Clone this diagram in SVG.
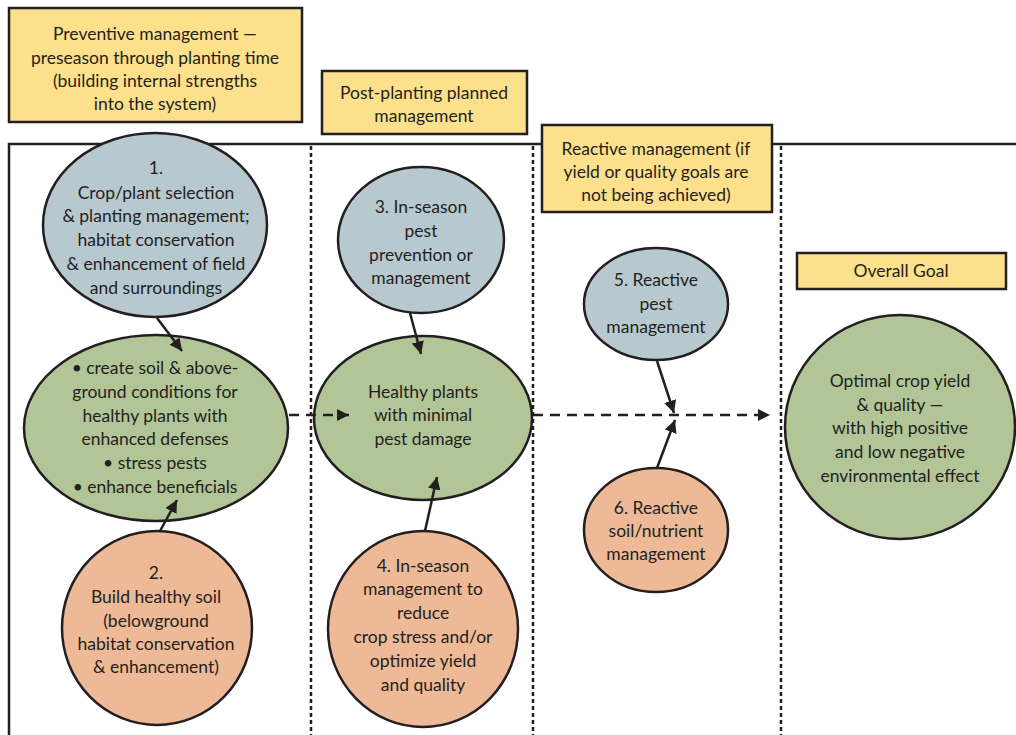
<svg xmlns="http://www.w3.org/2000/svg" width="1016" height="735" viewBox="0 0 1016 735">
<defs>
<marker id="ah" viewBox="0 0 10 10" refX="10" refY="5" markerWidth="5" markerHeight="5" orient="auto" markerUnits="strokeWidth">
<path d="M0,0 L10,5 L0,10 z" fill="#231f20"/>
</marker>
<style>
.t{font-family:Lato,"Liberation Sans",sans-serif;font-size:17.5px;fill:#231f20;text-anchor:middle}
.box{fill:#fde08c;stroke:#231f20;stroke-width:2.5}
.blue{fill:#b8c8cf;stroke:#231f20;stroke-width:2.5}
.green{fill:#b1c597;stroke:#231f20;stroke-width:2.5}
.orange{fill:#edb996;stroke:#231f20;stroke-width:2.5}
.frame{stroke:#231f20;stroke-width:2.5;fill:none}
.dot{stroke:#231f20;stroke-width:2.5;stroke-dasharray:4 3;fill:none}
.dash{stroke:#231f20;stroke-width:2.5;stroke-dasharray:10 7;fill:none}
.arr{stroke:#231f20;stroke-width:2.5;fill:none;marker-end:url(#ah)}
</style>
</defs>
<rect width="1016" height="735" fill="#ffffff"/>
<g id="frame">
<path class="frame" d="M9,735 L9,144 L1016,144"/>
<line class="dot" x1="311" y1="146" x2="311" y2="735"/>
<line class="dot" x1="533" y1="146" x2="533" y2="735"/>
<line class="dot" x1="781" y1="146" x2="781" y2="735"/>
</g>
<g id="box-preventive">
<rect class="box" x="9" y="8" width="293" height="114"/>
<text class="t" x="155" y="40">Preventive management —</text>
<text class="t" x="155" y="64">preseason through planting time</text>
<text class="t" x="155" y="87">(building internal strengths</text>
<text class="t" x="155" y="110">into the system)</text>
</g>
<g id="box-postplanting">
<rect class="box" x="322" y="71" width="205" height="63"/>
<text class="t" x="424" y="99">Post-planting planned</text>
<text class="t" x="424" y="122">management</text>
</g>
<g id="box-reactive">
<rect class="box" x="542" y="125" width="230" height="87"/>
<text class="t" x="656" y="155">Reactive management (if</text>
<text class="t" x="656" y="178">yield or quality goals are</text>
<text class="t" x="656" y="201">not being achieved)</text>
</g>
<g id="box-goal">
<rect class="box" x="797" y="253" width="209" height="36"/>
<text class="t" x="901" y="277">Overall Goal</text>
</g>
<g id="node1">
<ellipse class="blue" cx="155" cy="225" rx="112" ry="92"/>
<text class="t" x="156" y="174">1.</text>
<text class="t" x="156" y="199">Crop/plant selection</text>
<text class="t" x="156" y="222">&amp; planting management;</text>
<text class="t" x="156" y="246">habitat conservation</text>
<text class="t" x="156" y="270">&amp; enhancement of field</text>
<text class="t" x="156" y="294">and surroundings</text>
</g>
<g id="nodeA">
<ellipse class="green" cx="156" cy="428" rx="132" ry="93"/>
<text class="t" x="155" y="374">• create soil &amp; above-</text>
<text class="t" x="155" y="398">ground conditions for</text>
<text class="t" x="155" y="422">healthy plants with</text>
<text class="t" x="155" y="445">enhanced defenses</text>
<text class="t" x="155" y="469">• stress pests</text>
<text class="t" x="155" y="493">• enhance beneficials</text>
</g>
<g id="node2">
<ellipse class="orange" cx="157" cy="628" rx="95" ry="97"/>
<text class="t" x="156" y="579">2.</text>
<text class="t" x="156" y="603">Build healthy soil</text>
<text class="t" x="156" y="627">(belowground</text>
<text class="t" x="156" y="650">habitat conservation</text>
<text class="t" x="156" y="673">&amp; enhancement)</text>
</g>
<g id="node3">
<ellipse class="blue" cx="421" cy="240" rx="83" ry="73"/>
<text class="t" x="421" y="213">3. In-season</text>
<text class="t" x="421" y="237">pest</text>
<text class="t" x="421" y="261">prevention or</text>
<text class="t" x="421" y="284">management</text>
</g>
<g id="nodeB">
<ellipse class="green" cx="423" cy="418" rx="109" ry="82"/>
<text class="t" x="423" y="398">Healthy plants</text>
<text class="t" x="423" y="421">with minimal</text>
<text class="t" x="423" y="445">pest damage</text>
</g>
<g id="node4">
<ellipse class="orange" cx="423" cy="629" rx="95" ry="98"/>
<text class="t" x="423" y="572">4. In-season</text>
<text class="t" x="423" y="595">management to</text>
<text class="t" x="423" y="619">reduce</text>
<text class="t" x="423" y="643">crop stress and/or</text>
<text class="t" x="423" y="667">optimize yield</text>
<text class="t" x="423" y="691">and quality</text>
</g>
<g id="node5">
<ellipse class="blue" cx="656" cy="304" rx="72" ry="56"/>
<text class="t" x="656" y="286">5. Reactive</text>
<text class="t" x="656" y="310">pest</text>
<text class="t" x="656" y="333">management</text>
</g>
<g id="node6">
<ellipse class="orange" cx="656" cy="530" rx="72" ry="62"/>
<text class="t" x="656" y="514">6. Reactive</text>
<text class="t" x="656" y="537">soil/nutrient</text>
<text class="t" x="656" y="560">management</text>
</g>
<g id="goal">
<ellipse class="green" cx="900" cy="427" rx="115" ry="112"/>
<text class="t" x="900" y="387">Optimal crop yield</text>
<text class="t" x="900" y="411">&amp; quality —</text>
<text class="t" x="900" y="434">with high positive</text>
<text class="t" x="900" y="458">and low negative</text>
<text class="t" x="900" y="482">environmental effect</text>
</g>
<g id="connectors">
<line class="dash" x1="289" y1="415" x2="349" y2="415" style="marker-end:url(#ah)"/>
<line class="dash" x1="533" y1="415" x2="770" y2="415" style="marker-end:url(#ah)"/>
<line class="arr" x1="157" y1="318" x2="182" y2="351"/>
<line class="arr" x1="160" y1="531" x2="177" y2="500"/>
<line class="arr" x1="410" y1="313" x2="421" y2="354"/>
<line class="arr" x1="425" y1="531" x2="437" y2="477"/>
<line class="arr" x1="657" y1="361" x2="674" y2="413"/>
<line class="arr" x1="657" y1="468" x2="675" y2="420"/>
</g>
</svg>
